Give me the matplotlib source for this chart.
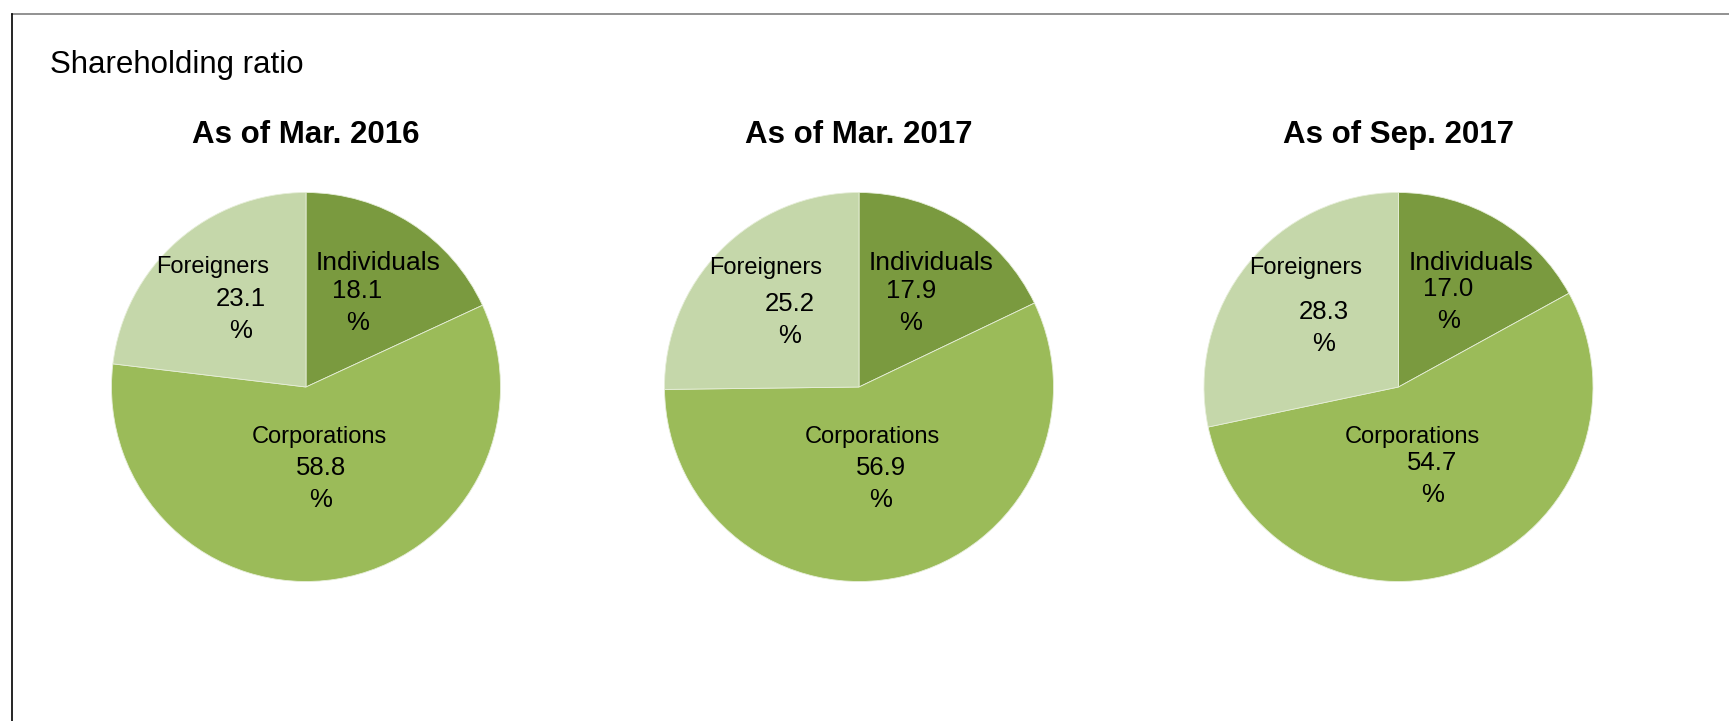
import matplotlib
matplotlib.use("Agg")
import matplotlib.pyplot as plt
from matplotlib.lines import Line2D

plt.rcParams['font.family'] = ['Liberation Sans', 'DejaVu Sans']

# ---- data ----
chart_title = "Shareholding ratio"
periods = ["As of Mar. 2016", "As of Mar. 2017", "As of Sep. 2017"]
categories = ["Individuals", "Corporations", "Foreigners"]
individuals = [18.1, 17.9, 17.0]
corporations = [58.8, 56.9, 54.7]
foreigners = [23.1, 25.2, 28.3]

colors = ["#7A9A3F", "#9BBB59", "#C5D7AA"]

# ---- layout (pixels) ----
W, H = 1729, 721
centers_x = [306, 859, 1398.5]
center_y = 387
R = 194.5

# per-pie label offsets in px from pie centre (x right, y down): (name_xy, value_xy)
label_offsets = [
    {"Individuals": ((72, -124.5), (51.5, -80)),
     "Foreigners": ((-93.5, -119.5), (-65.5, -72)),
     "Corporations": ((13, 50.5), (15, 97))},
    {"Individuals": ((72, -124), (52, -80)),
     "Foreigners": ((-93.5, -119), (-69.5, -67)),
     "Corporations": ((13.5, 50.5), (22, 97))},
    {"Individuals": ((73, -124), (50, -82)),
     "Foreigners": ((-93, -119), (-75, -59)),
     "Corporations": ((14, 50.5), (34, 92))},
]
name_sizes = {"Individuals": 19, "Foreigners": 17, "Corporations": 17}
value_size = 18.5

fig = plt.figure(figsize=(W / 100, H / 100), dpi=100)
fig.patch.set_facecolor("white")

# frame lines
fig.add_artist(Line2D([12 / W, 1.0], [1 - 14 / H, 1 - 14 / H], color="#7f7f7f", lw=1.2))
fig.add_artist(Line2D([12 / W, 12 / W], [0, 1 - 14 / H], color="black", lw=1.2))

fig.text(50 / W, 1 - 65 / H, chart_title, fontsize=22.5, ha="left", va="center", color="black")

for i, period in enumerate(periods):
    cx = centers_x[i]
    ax = fig.add_axes([(cx - R) / W, (H - center_y - R) / H, 2 * R / W, 2 * R / H])
    vals = [individuals[i], corporations[i], foreigners[i]]
    ax.pie(vals, colors=colors, startangle=90, counterclock=False, radius=1,
           wedgeprops=dict(edgecolor="#e6eed8", linewidth=0.6))
    ax.set_xlim(-1, 1)
    ax.set_ylim(-1, 1)
    ax.set_aspect("equal")
    ax.axis("off")
    for cat, v in zip(categories, vals):
        (nx, ny), (vx, vy) = label_offsets[i][cat]
        ax.text(nx / R, -ny / R, cat, ha="center", va="center",
                fontsize=name_sizes[cat], color="black")
        ax.text(vx / R, -vy / R, f"{v:.1f}\n%", ha="center", va="center",
                fontsize=value_size, color="black", linespacing=1.45)
    fig.text(cx / W, 1 - 135 / H, period, ha="center", va="center",
             fontsize=22.5, fontweight="bold", color="black")

fig.savefig("out.png", dpi=100, facecolor="white")
